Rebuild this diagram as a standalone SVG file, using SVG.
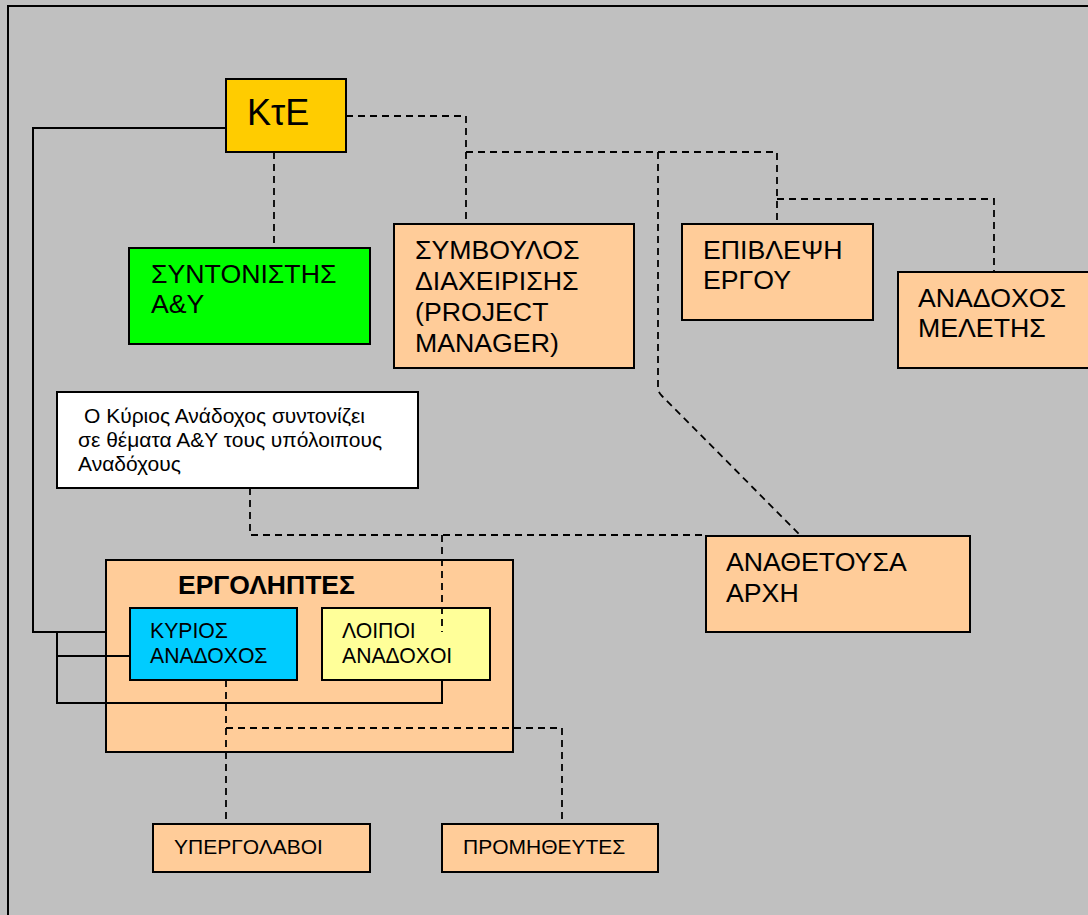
<svg xmlns="http://www.w3.org/2000/svg" width="1088" height="915" viewBox="0 0 1088 915">
<style>
.box{stroke:#000;stroke-width:2}
.t{font-family:"Liberation Sans",Arial,sans-serif;fill:#000}
.big{font-size:26.7px}
.mid{font-size:21.2px}
.sm{font-size:21px}
.solid{fill:none;stroke:#000;stroke-width:2}
.dash{fill:none;stroke:#000;stroke-width:1.8;stroke-dasharray:7 5}
</style>
<rect x="0" y="0" width="1088" height="915" fill="#C0C0C0"/>
<path d="M8,915 V6 H1088" fill="none" stroke="#000" stroke-width="2"/>

<g id="kte">
<rect class="box" x="226" y="79" width="120" height="73" fill="#FFCC00"/>
<text class="t" x="247" y="125" font-size="36">ΚτΕ</text>
</g>
<g id="syntonistis">
<rect class="box" x="129" y="248" width="241" height="96" fill="#00FF00"/>
<text class="t big" x="151" y="283">ΣΥΝΤΟΝΙΣΤΗΣ</text>
<text class="t big" x="151" y="313">Α&amp;Υ</text>
</g>
<g id="symvoulos">
<rect class="box" x="394" y="224" width="240" height="144" fill="#FFCC99"/>
<text class="t big" x="415" y="259">ΣΥΜΒΟΥΛΟΣ</text>
<text class="t big" x="415" y="290">ΔΙΑΧΕΙΡΙΣΗΣ</text>
<text class="t big" x="415" y="321">(PROJECT</text>
<text class="t big" x="415" y="352">MANAGER)</text>
</g>
<g id="epivlepsi">
<rect class="box" x="682" y="224" width="191" height="96" fill="#FFCC99"/>
<text class="t big" x="703" y="259">ΕΠΙΒΛΕΨΗ</text>
<text class="t big" x="703" y="289">ΕΡΓΟΥ</text>
</g>
<g id="anadoxos-meletis">
<rect class="box" x="898" y="272" width="200" height="96" fill="#FFCC99"/>
<text class="t big" x="918" y="307">ΑΝΑΔΟΧΟΣ</text>
<text class="t big" x="918" y="337">ΜΕΛΕΤΗΣ</text>
</g>
<g id="note">
<rect class="box" x="57" y="392" width="361" height="96" fill="#FFFFFF"/>
<text class="t" font-size="21" x="84" y="423">Ο Κύριος Ανάδοχος συντονίζει</text>
<text class="t" font-size="21" x="78" y="447">σε θέματα Α&amp;Υ τους υπόλοιπους</text>
<text class="t" font-size="21" x="78" y="471">Αναδόχους</text>
</g>
<g id="anathetousa">
<rect class="box" x="706" y="536" width="264" height="96" fill="#FFCC99"/>
<text class="t big" x="726" y="571">ΑΝΑΘΕΤΟΥΣΑ</text>
<text class="t big" x="726" y="602">ΑΡΧΗ</text>
</g>
<g id="ergoliptes">
<rect class="box" x="106" y="560" width="407" height="192" fill="#FFCC99"/>
<text class="t" x="178" y="594" font-size="26.5" font-weight="bold">ΕΡΓΟΛΗΠΤΕΣ</text>
</g>
<g id="kyrios">
<rect class="box" x="130" y="608" width="167" height="72" fill="#00CCFF"/>
<text class="t mid" x="150" y="638">ΚΥΡΙΟΣ</text>
<text class="t mid" x="150" y="663">ΑΝΑΔΟΧΟΣ</text>
</g>
<g id="loipoi">
<rect class="box" x="322" y="608" width="168" height="72" fill="#FFFF99"/>
<text class="t mid" x="342" y="638">ΛΟΙΠΟΙ</text>
<text class="t mid" x="342" y="663">ΑΝΑΔΟΧΟΙ</text>
</g>
<g id="ypergolavoi">
<rect class="box" x="153" y="824" width="217" height="48" fill="#FFCC99"/>
<text class="t sm" x="174" y="854">ΥΠΕΡΓΟΛΑΒΟΙ</text>
</g>
<g id="promitheutes">
<rect class="box" x="442" y="824" width="216" height="48" fill="#FFCC99"/>
<text class="t sm" x="463" y="854">ΠΡΟΜΗΘΕΥΤΕΣ</text>
</g>

<g id="connectors">
<path class="solid" d="M226,128 H33 V632 H106"/>
<path class="solid" d="M57,632 V703 H442 V680"/>
<path class="solid" d="M57,656 H130"/>
<path class="dash" d="M274,152 V247"/>
<path class="dash" d="M346,116 H466 V224"/>
<path class="dash" d="M466,152 H777 V224"/>
<path class="dash" d="M777,199 H994 V272"/>
<path class="dash" d="M658,152 V388 Q658,392 662,396 L801,536"/>
<path class="dash" d="M250,488 V535 H706"/>
<path class="dash" d="M442,535 V632"/>
<path class="dash" d="M226,680 V824"/>
<path class="dash" d="M226,728 H562 V824"/>
</g>
</svg>
